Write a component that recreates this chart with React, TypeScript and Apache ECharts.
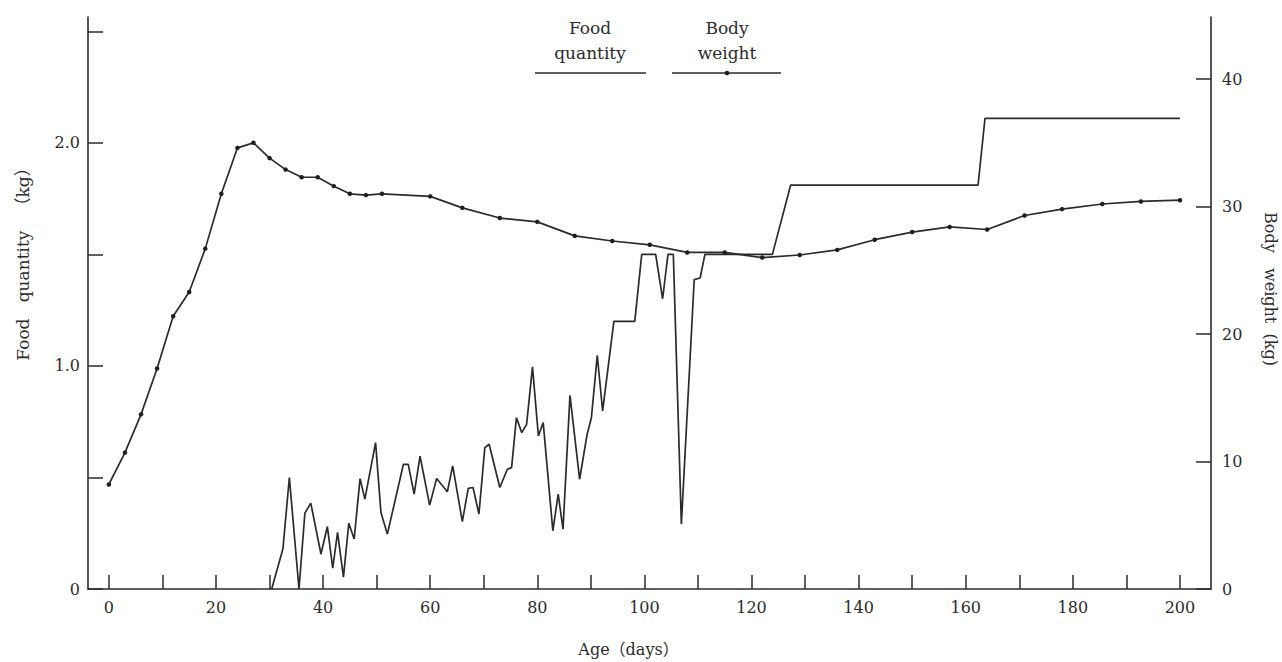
import React, { useEffect, useRef } from "react";
import * as echarts from "echarts";

// Age in days and food offered per day (kg)
const foodDays = [
  30.4, 32.5, 33.7, 35.5, 36.6, 37.7, 39.6, 40.8, 41.8, 42.7, 43.8, 44.8, 45.8, 46.9, 47.8,
  49.8, 50.8, 52.0, 55.0, 55.9, 57.0, 58.1, 59.9, 61.2, 63.2, 64.2, 66.0, 67.1, 68.0, 69.1,
  70.2, 71.0, 73.0, 74.4, 75.2, 76.1, 77.1, 78.0, 79.1, 80.2, 81.1, 82.9, 83.9, 84.8, 86.1,
  87.9, 89.3, 90.1, 91.2, 92.2, 94.3, 98.2, 99.5, 102.1, 103.4, 104.4, 105.4, 106.9, 109.3,
  110.4, 111.3, 123.9, 127.3, 162.3, 163.6, 200,
];
const foodKg = [
  0, 0.18, 0.5, 0, 0.34, 0.385, 0.157, 0.28, 0.093, 0.254, 0.053, 0.295, 0.224, 0.495, 0.403,
  0.656, 0.343, 0.246, 0.559, 0.559, 0.425, 0.596, 0.376, 0.495, 0.436, 0.552, 0.302, 0.451,
  0.455, 0.336, 0.634, 0.649, 0.455, 0.537, 0.544, 0.768, 0.701, 0.738, 0.996, 0.686, 0.746,
  0.261, 0.425, 0.268, 0.868, 0.492, 0.693, 0.768, 1.047, 0.798, 1.2, 1.2, 1.5, 1.5, 1.301,
  1.5, 1.5, 0.291, 1.387, 1.394, 1.5, 1.5, 1.81, 1.81, 2.11, 2.11,
];

// Age in days and body weight (kg)
const weightDays = [
  0, 3, 6, 9, 12, 15, 18, 21, 24, 27, 30, 33, 36, 39, 42, 45, 48, 51, 60, 66, 73, 80, 87, 94,
  101, 108, 115, 122, 129, 136, 143, 150, 157, 164, 171, 178, 185.5, 192.7, 200,
];
const weightKg = [
  8.2, 10.7, 13.7, 17.3, 21.4, 23.3, 26.7, 31.0, 34.6, 35.0, 33.8, 32.9, 32.3, 32.3, 31.6,
  31.0, 30.9, 31.0, 30.8, 29.9, 29.1, 28.8, 27.7, 27.3, 27.0, 26.4, 26.4, 26.0, 26.2, 26.6,
  27.4, 28.0, 28.4, 28.2, 29.3, 29.8, 30.2, 30.4, 30.5,
];

// Axis tick positions and labels
const ageTicks = [0, 10, 20, 30, 40, 50, 60, 70, 80, 90, 100, 110, 120, 130, 140, 150, 160, 170, 180, 190, 200];
const ageLabels = [0, 20, 40, 60, 80, 100, 120, 140, 160, 180, 200];
const foodTicks = [0, 0.5, 1, 1.5, 2, 2.5];
const foodLabels = [0, 1, 2];
const weightTicks = [0, 10, 20, 30, 40];

const INK = "#2b2b2b";
const FONT = '"DejaVu Serif", "Noto Sans CJK JP", serif';

export default function App() {
  const ref = useRef<HTMLDivElement>(null);

  useEffect(() => {
    if (!ref.current) return;
    const chart = echarts.init(ref.current, undefined, { renderer: "svg" });

    const food = foodDays.map((d, i) => [d, foodKg[i]]);
    const weight = weightDays.map((d, i) => [d, weightKg[i]]);

    const axisLine = { show: true, onZero: false, lineStyle: { color: INK, width: 1.6 } };
    const labelStyle = { color: INK, fontFamily: FONT, fontSize: 16 };

    chart.setOption({
      animation: false,
      backgroundColor: "#ffffff",
      grid: { left: 88, right: 71, top: 17, bottom: 72, containLabel: false },
      xAxis: {
        type: "value",
        min: -3.9,
        max: 205.8,
        name: "Age（days）",
        nameLocation: "middle",
        nameGap: 52,
        nameTextStyle: { color: INK, fontFamily: FONT, fontSize: 16, padding: [0, 42, 0, 0] },
        axisLine,
        axisTick: {
          show: true,
          inside: true,
          length: 14,
          customValues: ageTicks,
          lineStyle: { color: INK, width: 1.5 },
        },
        axisLabel: { ...labelStyle, margin: 10, customValues: ageLabels },
        splitLine: { show: false },
      },
      yAxis: [
        {
          type: "value",
          position: "left",
          min: 0,
          max: 2.564,
          axisLine,
          axisTick: {
            show: true,
            inside: true,
            length: 15,
            customValues: foodTicks,
            lineStyle: { color: INK, width: 1.5 },
          },
          axisLabel: {
            ...labelStyle,
            margin: 8,
            customValues: foodLabels,
            formatter: (v: number) => (v === 0 ? "0" : v.toFixed(1)),
          },
          splitLine: { show: false },
        },
        {
          type: "value",
          position: "right",
          min: 0,
          max: 44.87,
          axisLine,
          axisTick: {
            show: true,
            inside: true,
            length: 15,
            customValues: weightTicks,
            lineStyle: { color: INK, width: 1.5 },
          },
          axisLabel: { ...labelStyle, margin: 11, customValues: weightTicks },
          splitLine: { show: false },
        },
      ],
      series: [
        {
          name: "Food quantity",
          type: "line",
          yAxisIndex: 0,
          data: food,
          showSymbol: false,
          symbol: "none",
          lineStyle: { color: INK, width: 1.7 },
          z: 3,
        },
        {
          name: "Body weight",
          type: "line",
          yAxisIndex: 1,
          data: weight,
          symbol: "circle",
          symbolSize: 4.5,
          itemStyle: { color: "#1e1e1e" },
          lineStyle: { color: INK, width: 1.7 },
          z: 4,
        },
      ],
      graphic: [
        // Axis titles
        {
          type: "text",
          x: 23,
          y: 260,
          rotation: Math.PI / 2,
          style: {
            text: "Food   quantity   （kg）",
            align: "center",
            verticalAlign: "middle",
            fill: INK,
            font: `17px ${FONT}`,
          },
        },
        {
          type: "text",
          x: 1270,
          y: 289,
          rotation: -Math.PI / 2,
          style: {
            text: "Body   weight  (kg)",
            align: "center",
            verticalAlign: "middle",
            fill: INK,
            font: `16px ${FONT}`,
          },
        },
        // Key
        {
          type: "text",
          x: 590,
          y: 40,
          style: {
            text: "Food\nquantity",
            align: "center",
            verticalAlign: "middle",
            lineHeight: 25,
            fill: INK,
            font: `17px ${FONT}`,
          },
        },
        {
          type: "line",
          shape: { x1: 535, y1: 73, x2: 646, y2: 73 },
          style: { stroke: INK, lineWidth: 1.7 },
        },
        {
          type: "text",
          x: 727,
          y: 40,
          style: {
            text: "Body\nweight",
            align: "center",
            verticalAlign: "middle",
            lineHeight: 25,
            fill: INK,
            font: `17px ${FONT}`,
          },
        },
        {
          type: "line",
          shape: { x1: 672, y1: 73, x2: 781, y2: 73 },
          style: { stroke: INK, lineWidth: 1.7 },
        },
        {
          type: "circle",
          shape: { cx: 727, cy: 73, r: 2.3 },
          style: { fill: "#1e1e1e" },
        },
      ],
    });

    return () => chart.dispose();
  }, []);

  return (
    <div
      ref={ref}
      style={{ position: "fixed", left: 0, top: 0, width: 1282, height: 662, background: "#fff" }}
    />
  );
}
